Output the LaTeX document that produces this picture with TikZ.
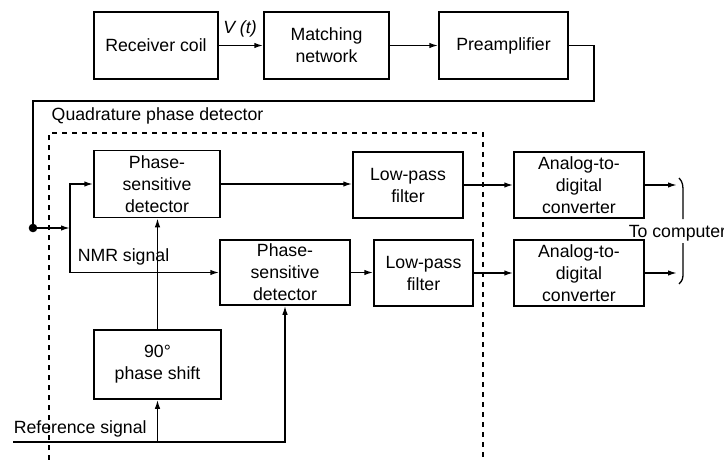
\documentclass[tikz,border=0pt]{standalone}
\usepackage{fontspec}
\setmainfont{Liberation Sans}
\usetikzlibrary{arrows.meta}
\begin{document}
\begin{tikzpicture}[x=1pt,y=-1pt,
  line width=1.5pt,
  txt/.style={font=\fontsize{17.7}{22}\selectfont},
  box/.style={draw, line width=1.5pt, align=center, inner sep=0pt, txt},
  lbl/.style={inner sep=0pt, txt},
  arr/.style={-{Latex[length=9pt,width=5.5pt]}},
  dashbox/.style={dash pattern=on 5pt off 5pt, line width=1.3pt}]
\useasboundingbox (0,0) rectangle (724,460);
% top row
\node[box, minimum width=124pt, minimum height=67pt] (rc) at (156,45.5) {Receiver coil};
\node[box, minimum width=125pt, minimum height=67pt] (mn) at (326.5,45.5) {Matching\\network};
\node[box, minimum width=129pt, minimum height=67pt] (pa) at (503.5,45.5) {Preamplifier};
\node[lbl] (vt) at (240,29) {\itshape V (t)};
\draw[arr] (rc.east) -- (mn.west);
\draw[arr] (mn.east) -- (pa.west);
% dashed region
\coordinate (dbl) at (49,460);
\coordinate (dtl) at (49,133);
\coordinate (dtr) at (483,133);
\coordinate (dbr) at (483,460);
\draw[dashbox] (dbl) -- (dtl) -- (dtr) -- (dbr);
\node[lbl, anchor=west] (qpd) at (51,116) {Quadrature phase detector};
% blocks
\node[box, minimum width=126pt, minimum height=67pt] (psd1) at (157,184) {Phase-\\sensitive\\detector};
\node[box, minimum width=110pt, minimum height=66pt] (lpf1) at (408,185) {Low-pass\\filter};
\node[box, minimum width=130pt, minimum height=66pt] (adc1) at (579,185) {Analog-to-\\digital\\converter};
\node[box, minimum width=130pt, minimum height=65pt] (psd2) at (285,272.5) {Phase-\\sensitive\\detector};
\node[box, minimum width=99pt, minimum height=66pt] (lpf2) at (423.5,273) {Low-pass\\filter};
\node[box, minimum width=130pt, minimum height=66pt] (adc2) at (579,273) {Analog-to-\\digital\\converter};
\node[box, minimum width=127pt, minimum height=69pt] (ps90) at (157.5,364.5) {90°\\phase shift};
% preamp feed
\coordinate (pr) at (594,101);
\coordinate (dot) at (33,228);
\draw (pa.east) -| (pr) -| (dot);
\fill (dot) circle (4.3pt);
\coordinate (split) at (70,228);
\draw[arr] (dot) -- (split);
\draw[arr] (split) |- (psd1.west);
\draw[arr] (split) |- (psd2.west);
\node[lbl, anchor=west] (nmr) at (77,257) {NMR signal};
% 90 deg to psd1
\draw[arr] (ps90.north) -- (ps90.north |- psd1.south);
% reference
\coordinate (refL) at (13,442);
\coordinate (refB) at (ps90.south |- refL);
\draw[arr] (refL) -| (psd2.south);
\draw[arr] (refB) -- (ps90.south);
\node[lbl, anchor=west] (refl) at (13,429) {Reference signal};
% signal chain
\draw[arr] (psd1.east) -- (psd1.east -| lpf1.west);
\draw[arr] (lpf1.east) -- (adc1.west);
\draw[arr] (psd2.east) -- (psd2.east -| lpf2.west);
\draw[arr] (lpf2.east) -- (adc2.west);
\coordinate (o1) at (677,185);
\coordinate (o2) at (677,273);
\draw[arr] (adc1.east) -- (o1);
\draw[arr] (adc2.east) -- (o2);
% brace
\draw[line width=1.3pt] (679,178) .. controls (683,182) and (683,186) .. (683,192) -- (683,219);
\draw[line width=1.3pt] (683,243) -- (683,272) .. controls (683,278) and (683,280) .. (679,284);
\node[lbl, anchor=base west] (tc) at (628,237) {To computer};
\end{tikzpicture}
\end{document}
